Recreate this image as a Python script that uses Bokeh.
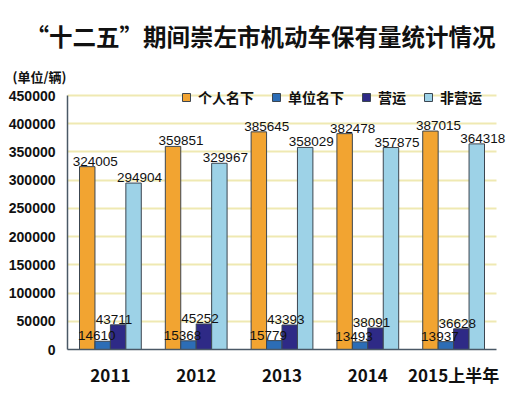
from bokeh.plotting import figure
from bokeh.models import ColumnDataSource, LabelSet, Legend, LegendItem, Range1d, FixedTicker, SingleIntervalTicker, Title
from bokeh.transform import dodge
from bokeh.core.properties import value
from bokeh.embed import file_html
from bokeh.resources import INLINE

years = ["2011", "2012", "2013", "2014", "2015上半年"]
personal = [324005, 359851, 385645, 382478, 387015]
unit = [14610, 15368, 15779, 13493, 13937]
operating = [43711, 45252, 43393, 38091, 36628]
nonop = [294904, 329967, 358029, 357875, 364318]
series_names = ["个人名下", "单位名下", "营运", "非营运"]
colors = ["#F2A431", "#2C6DB6", "#2E2A86", "#9DD2E7"]

centers = [i + 0.5 for i in range(len(years))]
src = ColumnDataSource(dict(xc=centers, personal=personal, unit=unit,
                            operating=operating, nonop=nonop))

CJK = "Noto Sans CJK SC"
LAT = "Liberation Sans"

p = figure(width=512, height=389, x_range=Range1d(0, 5.163), y_range=Range1d(0, 466000),
           output_backend="svg", toolbar_location=None,
           min_border_left=67, min_border_right=2, min_border_top=86, min_border_bottom=39)
p.background_fill_color = "#ffffff"
p.border_fill_color = "#ffffff"
p.outline_line_color = None

cols = ["personal", "unit", "operating", "nonop"]
offsets = [-0.27, -0.09, 0.09, 0.27]
lbl_dx = [8, -6, -4, 6]
renderers = []
for c, off, col, dx in zip(cols, offsets, colors, lbl_dx):
    r = p.vbar(x=dodge("xc", off), top=c, width=0.18, source=src,
               fill_color=col, line_color="#3c4650", line_width=1)
    renderers.append(r)
    ls = LabelSet(x=dodge("xc", off), y=c, text=c, source=src,
                  text_align="center", text_baseline="bottom", x_offset=dx, y_offset=1,
                  text_font=value(LAT), text_font_size=value("13.5px"), text_color="#111111")
    p.add_layout(ls)

p.xgrid.grid_line_color = None
p.ygrid.grid_line_color = "#EFE9B2"
p.ygrid.grid_line_width = 2
p.ygrid.bounds = (0, 450000)
try:
    p.ygrid.cross_bounds = (0, len(years))
except Exception:
    pass
p.yaxis.ticker = SingleIntervalTicker(interval=50000)
p.yaxis.bounds = (0, 450000)
p.xaxis.ticker = FixedTicker(ticks=centers)
p.xaxis.major_label_overrides = {c: y for c, y in zip(centers, years)}
p.xaxis.bounds = (0, len(years))

for ax in (p.xaxis, p.yaxis):
    ax.axis_line_color = "#4a5866"
    ax.axis_line_width = 1.5
    ax.major_tick_line_color = None
    ax.minor_tick_line_color = None
    ax.major_label_text_color = "#111111"
    ax.major_label_text_font_style = "bold"

p.yaxis.formatter.use_scientific = False
p.yaxis.major_label_text_font = LAT
p.yaxis.major_label_text_font_size = "14px"
p.yaxis.major_label_standoff = 6
p.xaxis.major_label_text_font = CJK
p.xaxis.major_label_text_font_size = "17px"
p.xaxis.major_label_standoff = 6

legend = Legend(items=[LegendItem(label=n, renderers=[r]) for n, r in zip(series_names, renderers)],
                orientation="horizontal", location=(114, 242),
                glyph_width=10, glyph_height=10, label_standoff=7, spacing=17,
                label_text_font=CJK, label_text_font_size="14px", label_text_font_style="bold",
                label_text_color="#111111", background_fill_alpha=0, border_line_color=None,
                padding=0, margin=0)
p.add_layout(legend)

unit_title = Title(text="(单位/辆)", align="left", offset=-55, standoff=2,
                   text_font=CJK, text_font_size="13px", text_font_style="bold",
                   text_color="#111111")
p.add_layout(unit_title, "above")
main_title = Title(text="“十二五”期间崇左市机动车保有量统计情况", align="left", offset=-42,
                   standoff=22, text_font=CJK, text_font_size="23.5px", text_font_style="bold",
                   text_color="#111111")
p.add_layout(main_title, "above")

open("out.html", "w").write(file_html(p, INLINE))
